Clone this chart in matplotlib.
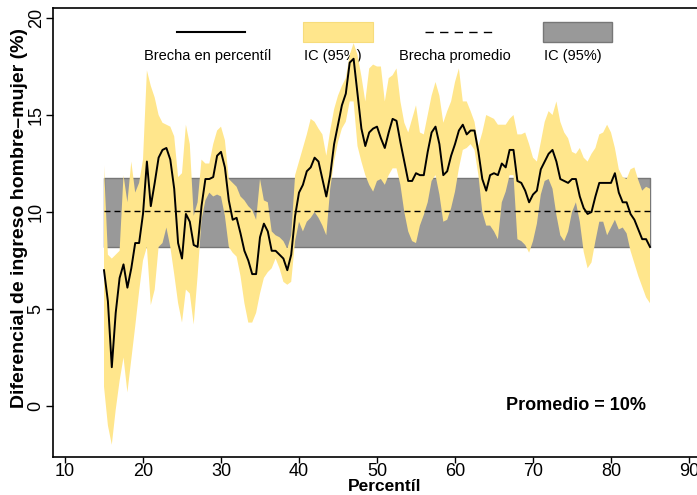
import numpy as np
import matplotlib
matplotlib.use('Agg')
import matplotlib.pyplot as plt
from matplotlib.patches import Rectangle

plt.rcParams['font.family'] = ['Liberation Sans', 'DejaVu Sans']

# percentiles 15..85 in half steps
pct = np.arange(15, 85.5, 0.5)

# gap by percentile (%)
brecha = [7.0, 5.4, 2.0, 4.8, 6.6, 7.3, 6.1, 7.1, 8.4, 8.4,
          9.9, 12.6, 10.3, 11.5, 12.8, 13.2, 13.3, 12.7, 11.2, 8.4,
          7.6, 9.9, 9.5, 8.3, 8.2, 10.3, 11.7, 11.7, 11.8, 12.9,
          13.1, 12.3, 10.6, 9.6, 9.7, 8.9, 8.0, 7.5, 6.8, 6.8,
          8.7, 9.4, 9.0, 8.0, 8.0, 7.8, 7.6, 7.0, 7.8, 9.8,
          11.0, 11.4, 12.1, 12.3, 12.8, 12.6, 11.7, 10.8, 11.9, 13.5,
          14.5, 15.5, 16.1, 17.7, 17.9, 16.1, 14.3, 13.4, 14.1, 14.3,
          14.4, 13.8, 13.3, 14.1, 14.8, 14.7, 13.6, 12.6, 11.6, 11.6,
          12.0, 11.9, 11.9, 13.1, 14.1, 14.4, 13.5, 11.9, 12.1, 12.9,
          13.5, 14.2, 14.5, 14.0, 14.2, 14.2, 13.1, 11.7, 11.1, 11.9,
          12.0, 11.9, 12.5, 12.3, 13.2, 13.2, 11.6, 11.5, 11.1, 10.5,
          10.9, 11.1, 12.2, 12.6, 13.0, 13.2, 12.6, 11.7, 11.6, 11.5,
          11.7, 11.7, 10.8, 10.2, 9.9, 10.0, 10.8, 11.5, 11.5, 11.5,
          11.5, 12.0, 11.0, 10.5, 10.5, 9.9, 9.6, 9.1, 8.6, 8.6,
          8.2]

# 95% confidence interval of the gap
ic_hi = [12.4, 7.8, 7.6, 7.8, 8.0, 11.9, 10.5, 12.6, 11.0, 11.5,
         12.7, 17.3, 16.5, 15.9, 15.0, 14.6, 14.5, 14.4, 13.9, 11.8,
         12.0, 14.5, 13.5, 9.8, 10.5, 12.7, 12.5, 12.5, 13.5, 14.2,
         14.4, 13.7, 11.7, 11.5, 11.3, 10.8, 10.6, 10.3, 10.1, 9.6,
         11.7, 10.6, 10.5, 9.0, 8.8, 8.7, 8.5, 8.1, 8.8, 11.9,
         12.6, 13.3, 14.0, 14.8, 14.65, 14.3, 14.0, 12.9, 14.2, 15.3,
         16.0, 16.5, 16.9, 18.1, 18.7, 18.1, 17.0, 15.7, 17.4, 17.6,
         17.5, 17.5, 15.7, 16.9, 17.05, 17.4, 15.7, 14.6, 14.1, 14.8,
         15.5, 14.1, 14.0, 15.0, 16.0, 16.7, 16.0, 14.6, 15.2, 15.7,
         16.7, 17.4, 15.7, 15.7, 15.2, 14.65, 13.4, 14.1, 15.0, 14.9,
         14.8, 14.5, 14.5, 14.5, 14.8, 15.0, 14.0, 14.0, 14.1, 13.5,
         12.8, 12.6, 13.6, 14.65, 15.2, 15.0, 15.7, 14.65, 14.1, 13.8,
         13.1, 13.0, 13.3, 12.8, 12.6, 13.0, 13.3, 14.0, 14.1, 14.5,
         14.1, 13.3, 12.2, 11.8, 11.7, 12.2, 12.3, 11.65, 11.1, 11.3,
         11.2]
ic_lo = [1.0, -1.0, -2.0, -0.2, 1.3, 2.5, 0.7, 2.4, 4.1, 5.9,
         7.5, 8.2, 5.2, 6.0, 8.2, 8.4, 9.2, 8.2, 6.8, 5.3,
         4.3, 6.0, 5.8, 4.2, 6.7, 9.6, 10.6, 11.0, 10.8, 10.9,
         10.8, 9.8, 8.2, 7.9, 7.7, 6.7, 5.3, 4.3, 4.3, 4.8,
         5.8, 6.6, 6.9, 7.1, 7.6, 7.1, 6.4, 6.25, 6.4, 8.5,
         9.5, 9.0, 9.5, 9.7, 10.0, 9.7, 9.3, 8.8, 11.2, 12.6,
         13.6, 14.3, 14.65, 15.7, 15.7, 13.4, 12.6, 11.9, 11.4, 11.05,
         11.6, 11.7, 11.4, 11.9, 12.25, 12.25, 11.4, 10.0, 9.0, 8.5,
         8.4, 9.3, 9.85, 10.5, 11.6, 11.9, 10.9, 9.5, 9.6, 10.2,
         11.05, 12.25, 13.2, 13.3, 13.5, 13.2, 11.9, 10.0, 9.3, 9.3,
         9.0, 8.6, 10.5, 11.05, 11.9, 11.9, 8.6, 8.5, 8.3, 7.9,
         8.5, 9.4, 10.9, 11.6, 11.7, 11.2, 9.85, 8.8, 8.5, 9.0,
         10.0, 10.5, 9.5, 7.95, 7.1, 7.4, 8.5, 9.5, 9.5, 8.8,
         9.2, 9.6, 9.1, 9.2, 8.9, 8.0, 7.35, 6.7, 6.15, 5.6,
         5.3]

# average gap and its interval
prom_pct = [15, 85]
prom = 10.05
prom_lo = 8.22
prom_hi = 11.75

amarillo = '#ffe68c'
gris = '#999999'

W, H = 697, 495
fig = plt.figure(figsize=(W / 100, H / 100), dpi=100)

# legend drawn in pixel space behind the plot
lg = fig.add_axes([0, 0, 1, 1])
lg.set_xlim(0, W)
lg.set_ylim(H, 0)
lg.axis('off')
lg.plot([177, 245], [32, 32], color='black', lw=1.5)
lg.add_patch(Rectangle((303, 22), 70, 20, facecolor=amarillo, edgecolor='#f7dc7c', lw=0.8))
lg.plot([425, 493], [32, 32], color='black', lw=1, dashes=(6, 4.5))
lg.add_patch(Rectangle((543, 22), 69, 20, facecolor=gris, edgecolor='#777777', lw=1))
for xc, s in [(208, 'Brecha en percentíl'), (333, 'IC (95%)'),
              (455, 'Brecha promedio'), (573, 'IC (95%)')]:
    lg.text(xc, 56, s, ha='center', va='center', fontsize=10.5)

ax = fig.add_axes([53 / W, 1 - 457 / H, (718 - 53) / W, (457 - 8) / H])
ax.patch.set_alpha(0)

ax.fill_between(prom_pct, prom_lo, prom_hi, facecolor=gris, edgecolor='#777777', lw=1, zorder=1)
ax.fill_between(pct, ic_lo, ic_hi, facecolor=amarillo, edgecolor='none', zorder=2)
ax.plot(prom_pct, [prom, prom], color='black', lw=1, dashes=(4.3, 2.9), zorder=3)
ax.plot(pct, brecha, color='black', lw=1.4, zorder=4)

ax.text(75.5, 0, 'Promedio = 10%', fontsize=13, fontweight='bold', ha='center', va='center')

ax.set_xlim(10 - 12 / 7.8, 10 + 653 / 7.8)
ax.set_ylim(-51 / 19.4, 398 / 19.4)
ax.set_xticks(range(10, 100, 10))
ax.set_yticks(range(0, 25, 5))

for s in ['left', 'bottom', 'top']:
    ax.spines[s].set_linewidth(1.2)
ax.spines['right'].set_visible(False)
ax.tick_params(direction='out', length=4, width=1, labelsize=13, pad=0.5)
ax.tick_params(axis='y', labelrotation=90, length=5, pad=1)
for lab in ax.get_yticklabels():
    lab.set_va('center')

ax.set_xlabel('Percentíl', fontsize=12.5, fontweight='bold')
ax.xaxis.set_label_coords((385 - 53) / 665, -(491 - 457) / 449)
ax.xaxis.label.set_va('baseline')
ax.set_ylabel('Diferencial de ingreso hombre–mujer (%)', fontsize=14, fontweight='bold')
ax.yaxis.set_label_coords((28 - 53) / 665, (457 - 218) / 449)

fig.savefig('out.png', dpi=100)
